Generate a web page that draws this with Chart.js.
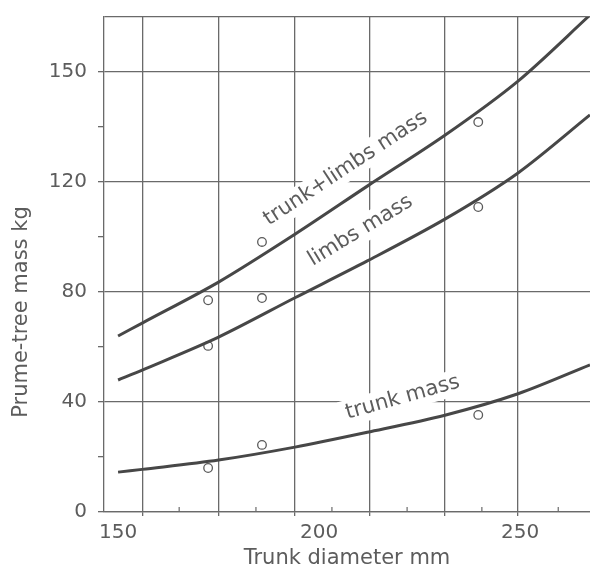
<!DOCTYPE html>
<html>
<head>
<meta charset="utf-8">
<script src="https://cdn.jsdelivr.net/npm/chart.js@4.4.0/dist/chart.umd.min.js"></script>
<style>
  html, body { margin: 0; padding: 0; background: #fff; overflow: hidden; }
  #wrap { width: 590px; height: 574px; position: relative; }
  #massChart { display: block; }
</style>
</head>
<body>
<div id="wrap"><canvas id="massChart"></canvas></div>
<script>
// trunk diameter (mm) where the fitted curves were read
const diameters = [150, 156, 175, 194, 212, 231.3, 249.5, 267.4];
const trunkLimbsMass = [64, 68.7, 83.6, 101, 118.5, 137, 156.7, 180.7];
const limbsMass = [48, 51.6, 63.6, 77.9, 91.3, 106.5, 123.3, 144.4];
const trunkMass = [14.5, 15.5, 18.9, 23.6, 29, 35.2, 43, 53.5];

// measured trees (open circles)
const sampleDiameters = [172.4, 185.8, 239.6];
const sampleTrunkLimbs = [77, 98.2, 141.8];
const sampleLimbs = [60.4, 77.8, 110.9];
const sampleTrunk = [16, 24.4, 35.3];

// axis ticks as printed on the figure
const xLabelValues = [150, 200, 250];
const xGridValues = [156, 174.9, 194, 212.7, 231.3, 249.5];
const xMinorValues = [165.2, 184.3, 203.2, 221.9, 240.5, 259.5];
const yTickValues = [0, 40, 80, 120, 160];
const yTickLabels = ['0', '40', '80', '120', '150'];
const yMinorValues = [20, 60, 100, 140];
const yTop = 180;

const curveNames = ['trunk+limbs mass', 'limbs mass', 'trunk mass'];

const ink = '#474747';
const gridInk = '#6a6a6a';
const textInk = '#5c5c5c';
const none = 'rgba(0,0,0,0)';
const family = "'DejaVu Sans', 'Liberation Sans', sans-serif";

const toXY = (xs, ys) => xs.map((x, i) => ({ x: x, y: ys[i] }));

const curve = (data) => ({
    type: 'line',
    data: data,
    borderColor: ink,
    borderWidth: 3,
    pointRadius: 0,
    fill: false,
    tension: 0.3
});

const dots = (data) => ({
    type: 'scatter',
    data: data,
    pointRadius: 4.3,
    pointBorderWidth: 1.3,
    pointBorderColor: '#5a5a5a',
    pointBackgroundColor: '#fff',
    showLine: false
});

// names written along the curves, on a white strip that breaks the grid
const curveText = {
    id: 'curveText',
    beforeDatasetsDraw(chart, args, opts) {
        const { ctx, scales: { x, y } } = chart;
        ctx.save();
        ctx.font = '21px ' + family;
        ctx.textAlign = 'center';
        ctx.textBaseline = 'middle';
        opts.places.forEach((p, i) => {
            ctx.save();
            ctx.translate(x.getPixelForValue(p.x), y.getPixelForValue(p.y));
            ctx.rotate(p.angle * Math.PI / 180);
            const w = ctx.measureText(curveNames[i]).width;
            ctx.fillStyle = '#fff';
            ctx.fillRect(-w / 2 - 6, -13, w + 12, 26);
            ctx.fillStyle = textInk;
            ctx.fillText(curveNames[i], 0, 0);
            ctx.restore();
        });
        ctx.restore();
    },
    afterDraw(chart) {
        const { ctx, chartArea, scales: { x } } = chart;
        ctx.save();
        // small inward ticks between grid lines on the x axis
        ctx.strokeStyle = gridInk;
        ctx.lineWidth = 1.2;
        xMinorValues.forEach(v => {
            const px = x.getPixelForValue(v);
            ctx.beginPath();
            ctx.moveTo(px, chartArea.bottom);
            ctx.lineTo(px, chartArea.bottom - 5);
            ctx.stroke();
        });
        // y axis title
        ctx.translate(chartArea.left - 82, chartArea.top + chartArea.height * 0.596);
        ctx.rotate(-Math.PI / 2);
        ctx.font = '21px ' + family;
        ctx.fillStyle = textInk;
        ctx.textAlign = 'center';
        ctx.textBaseline = 'middle';
        ctx.fillText('Prume-tree mass kg', 0, 0);
        ctx.restore();
    }
};

const ctx = document.getElementById('massChart').getContext('2d');
new Chart(ctx, {
    data: {
        datasets: [
            curve(toXY(diameters, trunkLimbsMass)),
            curve(toXY(diameters, limbsMass)),
            curve(toXY(diameters, trunkMass)),
            dots(toXY(sampleDiameters, sampleTrunkLimbs)),
            dots(toXY(sampleDiameters, sampleLimbs)),
            dots(toXY(sampleDiameters, sampleTrunk))
        ]
    },
    options: {
        responsive: true,
        maintainAspectRatio: false,
        animation: false,
        layout: { autoPadding: false, padding: { top: 17, right: 0, left: 0, bottom: 0 } },
        plugins: {
            legend: { display: false },
            tooltip: { enabled: false },
            curveText: {
                places: [
                    { x: 206.6, y: 124.9, angle: -33.4 },
                    { x: 210.3, y: 102.3, angle: -31.3 },
                    { x: 220.8, y: 41.6, angle: -15.7 }
                ]
            }
        },
        scales: {
            x: {
                type: 'linear',
                min: 146.5,
                max: 267.4,
                afterBuildTicks: s => {
                    s.ticks = [...xLabelValues, ...xGridValues, ...xMinorValues]
                        .sort((a, b) => a - b).map(v => ({ value: v }));
                },
                afterFit: s => {
                    s.height = 62;
                    s.paddingLeft = 0;
                    s.paddingRight = 0;
                },
                grid: {
                    color: c => xGridValues.includes(c.tick && c.tick.value) ? gridInk : none,
                    tickColor: c => xGridValues.includes(c.tick && c.tick.value) ? gridInk : none,
                    lineWidth: 1.3,
                    tickLength: 4
                },
                border: { color: gridInk, width: 1.3 },
                ticks: {
                    autoSkip: false,
                    maxRotation: 0,
                    padding: 5,
                    color: textInk,
                    font: { family: family, size: 20 },
                    callback: v => xLabelValues.includes(v) ? String(v) : ''
                },
                title: {
                    display: true,
                    text: 'Trunk diameter mm',
                    color: textInk,
                    font: { family: family, size: 21 },
                    padding: { top: 0, bottom: 3 }
                }
            },
            y: {
                min: 0,
                max: yTop,
                afterBuildTicks: s => {
                    s.ticks = [...yTickValues, ...yMinorValues, yTop]
                        .sort((a, b) => a - b).map(v => ({ value: v }));
                },
                afterFit: s => {
                    s.width = 104;
                    s.paddingTop = 0;
                    s.paddingBottom = 0;
                },
                grid: {
                    color: c => {
                        const v = c.tick && c.tick.value;
                        return (yTickValues.includes(v) || v === yTop) ? gridInk : none;
                    },
                    tickColor: c => (c.tick && c.tick.value === yTop) ? none : gridInk,
                    lineWidth: 1.3,
                    tickLength: 6
                },
                border: { color: gridInk, width: 1.3 },
                ticks: {
                    autoSkip: false,
                    padding: 11,
                    color: textInk,
                    font: { family: family, size: 20 },
                    callback: v => {
                        const i = yTickValues.indexOf(v);
                        return i >= 0 ? yTickLabels[i] : '';
                    }
                }
            }
        }
    },
    plugins: [curveText]
});
</script>
</body>
</html>
